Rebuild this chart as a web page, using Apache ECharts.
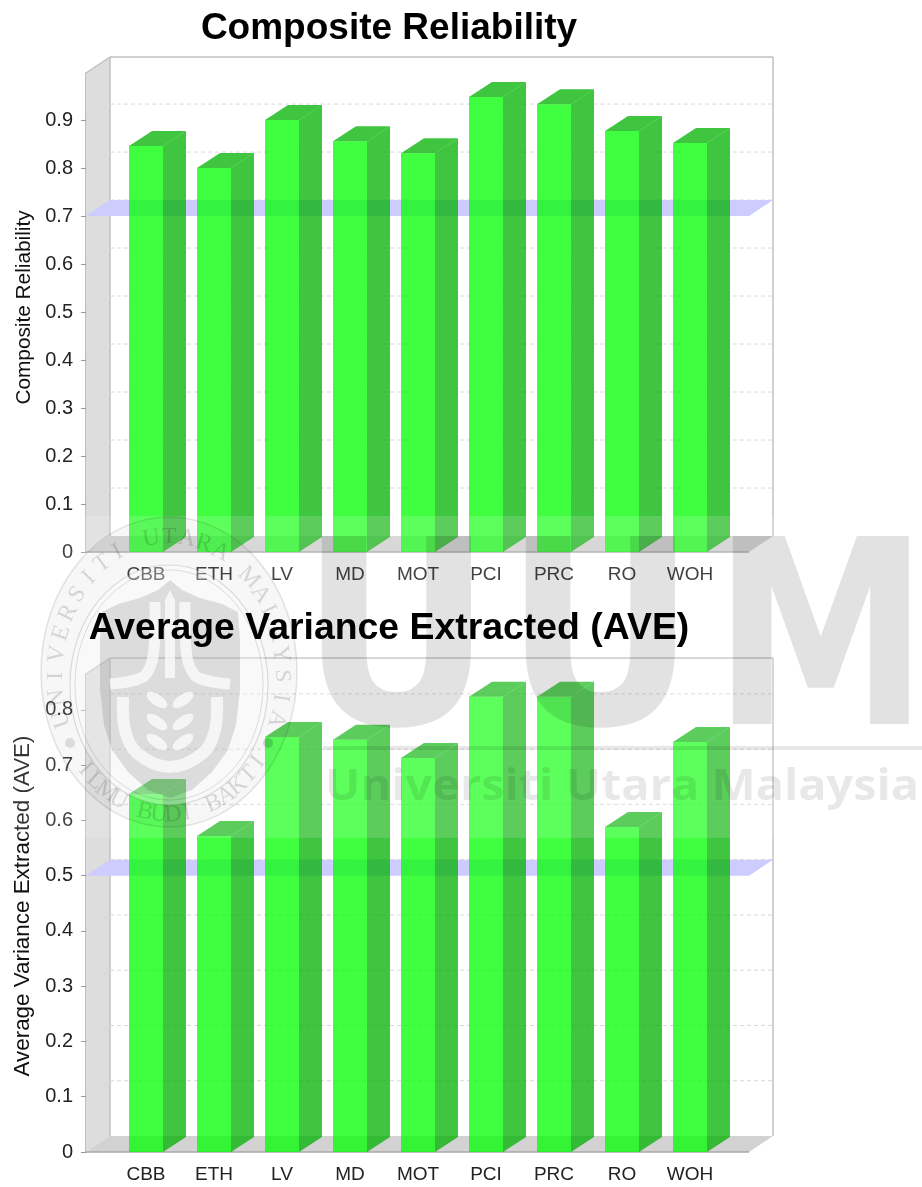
<!DOCTYPE html>
<html>
<head>
<meta charset="utf-8">
<style>
    html, body { margin: 0; padding: 0; background: #fff; }
    #main { width: 922px; height: 1187px; filter: blur(0.45px); }
</style>
<script src="https://cdn.jsdelivr.net/npm/echarts@6/dist/echarts.min.js"></script>
</head>
<body>
<div id="main"></div>
<script>
var categories = ['CBB', 'ETH', 'LV', 'MD', 'MOT', 'PCI', 'PRC', 'RO', 'WOH'];
var reliability = [0.846, 0.80, 0.90, 0.856, 0.831, 0.948, 0.933, 0.877, 0.852];
var ave = [0.648, 0.572, 0.751, 0.746, 0.713, 0.824, 0.824, 0.588, 0.742];
var reliabilityTicks = [0, 0.1, 0.2, 0.3, 0.4, 0.5, 0.6, 0.7, 0.8, 0.9];
var aveTicks = [0, 0.1, 0.2, 0.3, 0.4, 0.5, 0.6, 0.7, 0.8];
var reliabilityThreshold = [0.7];
var aveThreshold = [0.5];

// 3d look: how far the back wall sits from the front plane
var DEPTH_X = 24;
var DEPTH_Y = 16;
var WALL_LEFT = 26;
var WALL_RIGHT = 25;
var WASH = 'rgba(255,255,255,0.15)';
var GREY = 'rgba(0,0,0,0.115)';

function poly(points, fill) {
    return {type: 'polygon', shape: {points: points}, style: {fill: fill}};
}

function line(x1, y1, x2, y2, stroke, width, dash) {
    return {
        type: 'line',
        shape: {x1: x1, y1: y1, x2: x2, y2: y2},
        style: {stroke: stroke, lineWidth: width, lineDash: dash || null}
    };
}

function renderWalls(params, api) {
    var cs = params.coordSys;
    var l = cs.x - WALL_LEFT;
    var r = cs.x + cs.width + WALL_RIGHT;
    var t = cs.y;
    var b = cs.y + cs.height;
    var dx = DEPTH_X;
    var dy = DEPTH_Y;
    return {
        type: 'group',
        children: [
            poly([[l, b], [l + dx, b - dy], [l + dx, t - dy], [l, t]], '#dddddd'),
            poly([[l, b], [r, b], [r + dx, b - dy], [l + dx, b - dy]], '#d2d2d2'),
            line(l, t, l + dx, t - dy, '#c0c0c0', 1.5),
            line(l + dx, t - dy, r + dx, t - dy, '#c0c0c0', 1.5),
            line(r + dx, t - dy, r + dx, b - dy, '#c0c0c0', 1.5),
            line(l + dx, t - dy, l + dx, b - dy, '#c0c0c0', 1.5),
            line(l, b, r, b, '#a8a8a8', 1.5)
        ]
    };
}

function renderGrid(params, api) {
    var cs = params.coordSys;
    var y = api.coord([0, api.value(1)])[1];
    var l = cs.x - WALL_LEFT;
    var r = cs.x + cs.width + WALL_RIGHT;
    if (api.value(1) === 0) {
        return null;
    }
    return {
        type: 'group',
        children: [
            line(l, y, l + DEPTH_X, y - DEPTH_Y, '#d6d6d6', 1, [4, 3]),
            line(l + DEPTH_X, y - DEPTH_Y, r + DEPTH_X, y - DEPTH_Y, '#d8d8d8', 1, [4, 3])
        ]
    };
}

function renderBand(params, api) {
    var cs = params.coordSys;
    var y = api.coord([0, api.value(1)])[1];
    var l = cs.x - WALL_LEFT;
    var r = cs.x + cs.width + WALL_RIGHT;
    return poly([[l, y], [r, y], [r + DEPTH_X, y - DEPTH_Y], [l + DEPTH_X, y - DEPTH_Y]], '#ccccff');
}

function renderBar(params, api) {
    var top = api.coord([api.value(0), api.value(1)]);
    var bottom = api.coord([api.value(0), 0]);
    var w = api.size([1, 0])[0] * 0.5;
    var l = top[0] - w / 2;
    var r = top[0] + w / 2;
    var dx = DEPTH_X - 1;
    var dy = DEPTH_Y - 1;
    return {
        type: 'group',
        children: [
            poly([[l, bottom[1]], [r, bottom[1]], [r, top[1]], [l, top[1]]], 'rgba(0,255,0,0.75)'),
            poly([[r, bottom[1]], [r + dx, bottom[1] - dy], [r + dx, top[1] - dy], [r, top[1]]], 'rgba(0,178,0,0.75)'),
            poly([[l, top[1]], [r, top[1]], [r + dx, top[1] - dy], [l + dx, top[1] - dy]], 'rgba(0,178,0,0.75)')
        ]
    };
}

function xAxisFor(gridIndex) {
    return {
        type: 'category',
        gridIndex: gridIndex,
        data: categories,
        axisLine: {show: false},
        axisTick: {show: false},
        splitLine: {show: false},
        axisLabel: {
            interval: 0,
            margin: 13,
            fontFamily: 'Liberation Sans',
            fontSize: 19,
            color: '#222'
        }
    };
}

function yAxisFor(gridIndex, max, ticks, name, nameSize, padding) {
    return {
        type: 'value',
        gridIndex: gridIndex,
        min: 0,
        max: max,
        offset: WALL_LEFT,
        name: name,
        nameLocation: 'middle',
        nameGap: 51,
        nameTextStyle: {
            fontFamily: 'Liberation Sans',
            fontSize: nameSize,
            color: '#111',
            padding: padding
        },
        axisLine: {show: true, lineStyle: {color: '#a8a8a8', width: 1.5}},
        axisTick: {show: true, length: 5, lineStyle: {color: '#999'}, customValues: ticks},
        splitLine: {show: false},
        axisLabel: {
            customValues: ticks,
            margin: 13,
            fontFamily: 'Liberation Sans',
            fontSize: 20,
            color: '#222'
        }
    };
}

function customSeries(index, render, data, z) {
    return {
        type: 'custom',
        xAxisIndex: index,
        yAxisIndex: index,
        renderItem: render,
        data: data,
        z: z,
        silent: true
    };
}

function titleFor(text, top, size) {
    return {
        text: text,
        left: 384,
        top: top,
        textAlign: 'center',
        z: 8,
        textStyle: {fontFamily: 'Liberation Sans', fontWeight: 'bold', fontSize: size, color: '#000'}
    };
}

function pairs(list) {
    return list.map(function (v, i) { return [i, v]; });
}

// the university watermark laid over the page
function watermark() {
    var out = [];
    var cx = 169;
    function add(el) {
        el.z = 6;
        el.silent = true;
        out.push(el);
    }
    add({type: 'rect', shape: {x: 0, y: 516, width: 922, height: 322}, style: {fill: WASH}});

    // UUM
    [['U', 300, 0.92], ['U', 504, 0.92], ['M', 713, 0.84]].forEach(function (p) {
        add({
            type: 'text',
            x: p[1],
            y: 657,
            scaleX: p[2],
            style: {
                text: p[0], fill: GREY, align: 'left', verticalAlign: 'middle',
                font: 'bold 258px "DejaVu Sans"'
            }
        });
    });
    add({type: 'rect', shape: {x: 323, y: 746, width: 599, height: 4}, style: {fill: 'rgba(0,0,0,0.09)'}});
    add({
        type: 'text',
        x: 325,
        y: 788,
        scaleX: 1.09,
        style: {
            text: 'Universiti Utara Malaysia', fill: 'rgba(0,0,0,0.09)',
            align: 'left', verticalAlign: 'middle', font: 'bold 43px "Open Sans"'
        }
    });

    // seal rings
    add({type: 'ellipse', shape: {cx: cx, cy: 672, rx: 128, ry: 155}, style: {fill: 'rgba(0,0,0,0.03)', stroke: 'rgba(0,0,0,0.1)', lineWidth: 1.5}});
    add({type: 'ellipse', shape: {cx: cx, cy: 685, rx: 99, ry: 120}, style: {fill: 'rgba(255,255,255,0.3)', stroke: 'rgba(0,0,0,0.12)', lineWidth: 1.2}});
    add({type: 'ellipse', shape: {cx: cx, cy: 685, rx: 94, ry: 115}, style: {fill: 'none', stroke: 'rgba(0,0,0,0.12)', lineWidth: 1}});

    // shield
    var half = [[170, 580], [182, 590], [200, 598], [222, 604], [238, 612], [240, 640], [240, 690], [236, 725], [228, 750], [212, 772], [192, 790], [170, 798]];
    var shield = half.slice();
    for (var i = half.length - 2; i > 0; i--) {
        shield.push([340 - half[i][0], half[i][1]]);
    }
    add({type: 'polygon', shape: {points: shield}, style: {fill: GREY}});
    var white = 'rgba(255,255,255,0.72)';
    add({type: 'polyline', shape: {points: [[123, 697], [125, 730], [137, 753], [170, 767], [203, 753], [215, 730], [217, 697]], smooth: 0.35}, style: {stroke: white, lineWidth: 12, fill: null}});
    add({type: 'polyline', shape: {points: [[155, 602], [153, 657], [143, 677], [110, 684]], smooth: 0.3}, style: {stroke: white, lineWidth: 11, fill: null}});
    add({type: 'polyline', shape: {points: [[185, 602], [187, 657], [197, 677], [230, 684]], smooth: 0.3}, style: {stroke: white, lineWidth: 11, fill: null}});
    add({type: 'polygon', shape: {points: [[170, 590], [175, 600], [175, 678], [165, 678], [165, 600]]}, style: {fill: white}});
    [700, 722, 742].forEach(function (y) {
        add({type: 'ellipse', x: 157, y: y, rotation: -0.6, shape: {cx: 0, cy: 0, rx: 12, ry: 5.5}, style: {fill: white}});
        add({type: 'ellipse', x: 183, y: y, rotation: 0.6, shape: {cx: 0, cy: 0, rx: 12, ry: 5.5}, style: {fill: white}});
    });
    add({type: 'circle', shape: {cx: 70, cy: 743, r: 5}, style: {fill: GREY}});
    add({type: 'circle', shape: {cx: 268, cy: 743, r: 5}, style: {fill: 'rgba(0,0,0,0.16)'}});

    // seal lettering, one glyph at a time along the ring
    function ring(text, from, to, rx, ry, flip) {
        var chars = text.split('');
        chars.forEach(function (c, k) {
            var t = (from + (to - from) * k / (chars.length - 1)) * Math.PI / 180;
            add({
                type: 'text',
                x: cx + rx * Math.sin(t),
                y: 676 - ry * Math.cos(t),
                rotation: flip ? Math.PI - t : -t,
                style: {
                    text: c, fill: 'rgba(0,0,0,0.14)', align: 'center', verticalAlign: 'middle',
                    font: '24px "Liberation Serif"'
                }
            });
        });
    }
    ring('UNIVERSITI UTARA MALAYSIA', -108, 108, 113, 139, false);
    ring('ILMU BUDI BAKTI', 228, 128, 113, 139, true);
    return out;
}

var option = {
    backgroundColor: '#fff',
    animation: false,
    title: [
        titleFor('Composite Reliability', 5, 37),
        titleFor('Average Variance Extracted (AVE)', 605, 37.4)
    ],
    grid: [
        {left: 112, width: 612, top: 73, height: 479},
        {left: 112, width: 612, top: 674, height: 478}
    ],
    xAxis: [xAxisFor(0), xAxisFor(1)],
    yAxis: [
        yAxisFor(0, 0.998, reliabilityTicks, 'Composite Reliability', 20.8, [0, 0, 0, 10]),
        yAxisFor(1, 0.865, aveTicks, 'Average Variance Extracted (AVE)', 22.4, [0, 0, 0, 14])
    ],
    series: [
        customSeries(0, renderWalls, [[0, 0]], 1),
        customSeries(1, renderWalls, [[0, 0]], 1),
        customSeries(0, renderGrid, pairs(reliabilityTicks), 2),
        customSeries(1, renderGrid, pairs(aveTicks), 2),
        customSeries(0, renderBand, pairs(reliabilityThreshold), 3),
        customSeries(1, renderBand, pairs(aveThreshold), 3),
        customSeries(0, renderBar, pairs(reliability), 4),
        customSeries(1, renderBar, pairs(ave), 4)
    ],
    graphic: {elements: watermark()}
};

var chart = echarts.init(document.getElementById('main'));
chart.setOption(option);

window.addEventListener('resize', function () {
    chart.resize();
});
</script>
</body>
</html>
